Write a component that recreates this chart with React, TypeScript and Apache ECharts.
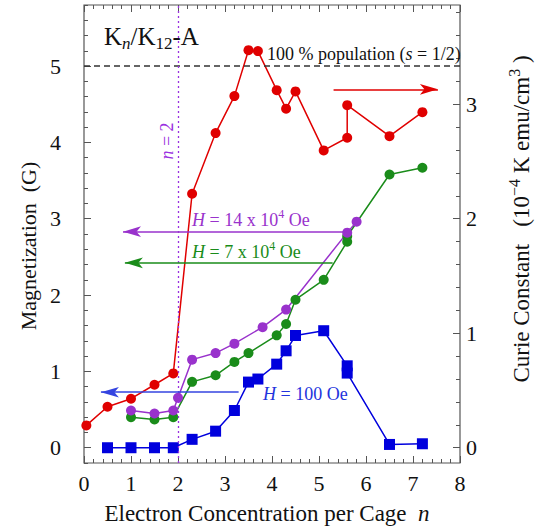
import React, { useEffect, useRef } from "react";
import * as echarts from "echarts";

const FONT = "'Liberation Serif', 'Times New Roman', serif";

// ---- axis ticks ----
const xMin = 0;
const xMax = 8;
const leftMin = -0.2;
const leftMax = 5.8;
const rightMin = -2 / 15;
const rightMax = 58 / 15;
const leftMajorTicks = [0, 1, 2, 3, 4, 5];
const rightMajorTicks = [0, 1, 2, 3];

// ---- Curie constant (right axis, red) ----
const redN = [0.05, 0.5, 1.0, 1.5, 1.9, 2.3, 2.8, 3.2, 3.5, 3.7, 4.1, 4.3, 4.5, 5.1, 5.6, 5.6, 6.5, 7.2];
const redCurie = [0.195, 0.358, 0.428, 0.55, 0.649, 2.218, 2.748, 3.071, 3.472, 3.464, 3.123, 2.961, 3.112, 2.597, 2.707, 2.992, 2.721, 2.931];

// ---- Magnetization H = 14 x 10^4 Oe (purple) ----
const purpleN = [1.0, 1.5, 1.9, 2.0, 2.3, 2.8, 3.2, 3.8, 4.3, 5.6, 5.8];
const purpleMag = [0.488, 0.448, 0.488, 0.654, 1.154, 1.24, 1.363, 1.58, 1.81, 2.818, 2.962];

// ---- Magnetization H = 7 x 10^4 Oe (green) ----
const greenN = [1.0, 1.5, 1.9, 2.3, 2.8, 3.2, 3.5, 4.1, 4.3, 4.5, 5.1, 5.6, 5.6, 6.5, 7.2];
const greenMag = [0.4, 0.37, 0.4, 0.863, 0.949, 1.124, 1.24, 1.472, 1.621, 1.939, 2.2, 2.7, 2.77, 3.58, 3.668];

// ---- Magnetization H = 100 Oe (blue) ----
const blueN = [0.5, 1.0, 1.5, 1.9, 2.3, 2.8, 3.2, 3.5, 3.7, 4.1, 4.3, 4.5, 5.1, 5.6, 5.6, 6.5, 7.2];
const blueMag = [0, 0, 0, 0, 0.11, 0.217, 0.488, 0.86, 0.9, 1.095, 1.27, 1.47, 1.533, 1.073, 0.978, 0.043, 0.052];

// ---- annotations (data coordinates) ----
const populationLevel = 5;
const nLine = 2;
const redArrow = [5.31, 7.53, 3.13]; // from, tip, y (right axis)
const purpleArrow = [0.83, 5.59, 2.831]; // tip, end, y (left axis)
const greenArrow = [0.87, 5.29, 2.422];
const blueArrow = [0.36, 3.29, 0.727];

const RED = "#e00000";
const GREEN = "#1a8c1a";
const PURPLE = "#9932cc";
const BLUE = "#0000dd";
const AXIS = "#555";

function tickList(from: number, to: number, step: number) {
  const out: number[] = [];
  const n = Math.round((to - from) / step);
  for (let k = 0; k <= n; k++) out.push(Math.round((from + k * step) * 100) / 100);
  return out;
}

function rich(size: number, subSize?: number) {
  const s = subSize || Math.round(size * 0.68);
  return {
    m: { fontFamily: FONT, fontSize: size, lineHeight: size + 6 },
    i: { fontFamily: FONT, fontSize: size, fontStyle: "italic", lineHeight: size + 6 },
    sup: { fontFamily: FONT, fontSize: s, lineHeight: 8, verticalAlign: "top" },
    sub: { fontFamily: FONT, fontSize: s, lineHeight: s, verticalAlign: "bottom" },
    subi: { fontFamily: FONT, fontSize: s, fontStyle: "italic", lineHeight: s, verticalAlign: "bottom" },
  };
}

function pairs(xs: number[], ys: number[]) {
  return xs.map((x, i) => [x, ys[i]]);
}

function arrowLeft(a: number[], color: string) {
  return {
    silent: true,
    symbol: ["arrow", "none"],
    symbolSize: [8, 18],
    label: { show: false },
    lineStyle: { color, width: 1.6, type: "solid" },
    emphasis: { disabled: true },
    data: [[{ coord: [a[0], a[2]] }, { coord: [a[1], a[2]] }]],
  };
}

function label(x: number, y: number, text: string, size: number, fill: string, extra: any = {}) {
  return {
    type: "text",
    x,
    y,
    z: 100,
    ...extra,
    style: {
      text,
      rich: extra.rich || rich(size),
      fill,
      fontFamily: FONT,
      fontSize: size,
      align: extra.align || "left",
      verticalAlign: "middle",
    },
  };
}

export default function App() {
  const ref = useRef<HTMLDivElement>(null);
  useEffect(() => {
    if (!ref.current) return;
    const chart = echarts.init(ref.current, undefined, { renderer: "svg" });
    const tickLine = { color: AXIS, width: 1 };
    const labelStyle = { fontSize: 22, fontFamily: FONT, color: "#111" };
    const xAxisBase = {
      type: "value",
      min: xMin,
      max: xMax,
      interval: 1,
      axisLine: { show: false, onZero: false },
      splitLine: { show: false },
      axisTick: { show: true, inside: true, length: 7, lineStyle: tickLine },
      minorTick: { show: true, splitNumber: 5, length: 4, lineStyle: tickLine },
    };
    const option: any = {
      animation: false,
      backgroundColor: "#fff",
      textStyle: { fontFamily: FONT },
      grid: { left: 84, right: 76, top: 5, bottom: 68, show: true, borderColor: AXIS, borderWidth: 1.2 },
      xAxis: [
        {
          ...xAxisBase,
          position: "bottom",
          axisLabel: { show: true, margin: 9, ...labelStyle },
        },
        { ...xAxisBase, position: "top", axisLabel: { show: false } },
      ],
      yAxis: [
        {
          type: "value",
          position: "left",
          min: leftMin,
          max: leftMax,
          axisLine: { show: false, onZero: false },
          splitLine: { show: false },
          axisTick: { show: true, inside: true, length: 7, customValues: leftMajorTicks, lineStyle: tickLine },
          axisLabel: { show: true, customValues: leftMajorTicks, margin: 23, ...labelStyle },
        },
        {
          type: "value",
          position: "right",
          min: rightMin,
          max: rightMax,
          axisLine: { show: false, onZero: false },
          splitLine: { show: false },
          axisTick: { show: true, inside: true, length: 7, customValues: rightMajorTicks, lineStyle: tickLine },
          axisLabel: { show: true, customValues: rightMajorTicks, margin: 6, ...labelStyle },
        },
        {
          type: "value",
          position: "left",
          min: leftMin,
          max: leftMax,
          axisLine: { show: false, onZero: false },
          splitLine: { show: false },
          axisTick: { show: true, inside: true, length: 4, customValues: tickList(leftMin, leftMax, 0.2), lineStyle: tickLine },
          axisLabel: { show: false },
        },
        {
          type: "value",
          position: "right",
          min: rightMin,
          max: rightMax,
          axisLine: { show: false, onZero: false },
          splitLine: { show: false },
          axisTick: { show: true, inside: true, length: 4, customValues: tickList(0, 3.8, 0.2), lineStyle: tickLine },
          axisLabel: { show: false },
        },
      ],
      series: [
        {
          type: "line",
          name: "refs",
          xAxisIndex: 0,
          yAxisIndex: 0,
          data: [],
          silent: true,
          markLine: {
            silent: true,
            symbol: "none",
            label: { show: false },
            emphasis: { disabled: true },
            data: [
              { yAxis: populationLevel, lineStyle: { color: "#333", width: 1.5, type: [6, 4] } },
              { xAxis: nLine, lineStyle: { color: "#9a30e0", width: 1.3, type: [2, 3] } },
            ],
          },
        },
        {
          type: "line",
          name: "H = 100 Oe",
          xAxisIndex: 0,
          yAxisIndex: 0,
          data: pairs(blueN, blueMag),
          symbol: "rect",
          symbolSize: 11,
          itemStyle: { color: BLUE },
          lineStyle: { color: BLUE, width: 1.5 },
          markLine: arrowLeft(blueArrow, "#3444e0"),
        },
        {
          type: "line",
          name: "H = 7 x 10^4 Oe",
          xAxisIndex: 0,
          yAxisIndex: 0,
          data: pairs(greenN, greenMag),
          symbol: "circle",
          symbolSize: 10,
          itemStyle: { color: GREEN },
          lineStyle: { color: GREEN, width: 1.5 },
          markLine: arrowLeft(greenArrow, GREEN),
        },
        {
          type: "line",
          name: "H = 14 x 10^4 Oe",
          xAxisIndex: 0,
          yAxisIndex: 0,
          data: pairs(purpleN, purpleMag),
          symbol: "circle",
          symbolSize: 10,
          itemStyle: { color: PURPLE },
          lineStyle: { color: PURPLE, width: 1.5 },
          markLine: arrowLeft(purpleArrow, PURPLE),
        },
        {
          type: "line",
          name: "Curie Constant",
          xAxisIndex: 0,
          yAxisIndex: 1,
          data: pairs(redN, redCurie),
          symbol: "circle",
          symbolSize: 10,
          itemStyle: { color: RED },
          lineStyle: { color: RED, width: 1.5 },
          markLine: {
            silent: true,
            symbol: ["none", "arrow"],
            symbolSize: [8, 18],
            label: { show: false },
            emphasis: { disabled: true },
            lineStyle: { color: RED, width: 1.6, type: "solid" },
            data: [[{ coord: [redArrow[0], redArrow[2]] }, { coord: [redArrow[1], redArrow[2]] }]],
          },
        },
      ],
      graphic: [
        label(104, 36, "{m|K}{subi|n}{m|/K}{sub|12}{m|-A}", 25, "#111", { rich: rich(25, 17) }),
        label(267, 54, "{m|100 % population (}{i|s}{m| = 1/2)}", 18, "#111"),
        label(167, 141, "{i|n}{m| = 2}", 18, "#9a30e0", { rotation: Math.PI / 2, align: "center" }),
        label(192, 220, "{i|H}{m| = 14 x 10}{sup|4}{m| Oe}", 18, PURPLE),
        label(192, 252, "{i|H}{m| = 7 x 10}{sup|4}{m| Oe}", 18, GREEN),
        label(263, 394, "{i|H}{m| = 100 Oe}", 18, "#2233dd"),
        label(28, 246, "{m|Magnetization  (G)}", 22, "#111", { rotation: Math.PI / 2, align: "center" }),
        label(521, 219, "{m|Curie Constant   (10}{sup|−4}{m| K emu/cm}{sup|3}{m| )}", 23, "#111", {
          rotation: Math.PI / 2,
          align: "center",
        }),
        label(267, 513, "{m|Electron Concentration per Cage  }{i|n}", 23, "#111", { align: "center" }),
      ],
    };
    chart.setOption(option);
    return () => chart.dispose();
  }, []);
  return (
    <div
      ref={ref}
      style={{ position: "fixed", left: 0, top: 0, width: 536, height: 531, background: "#fff" }}
    />
  );
}
